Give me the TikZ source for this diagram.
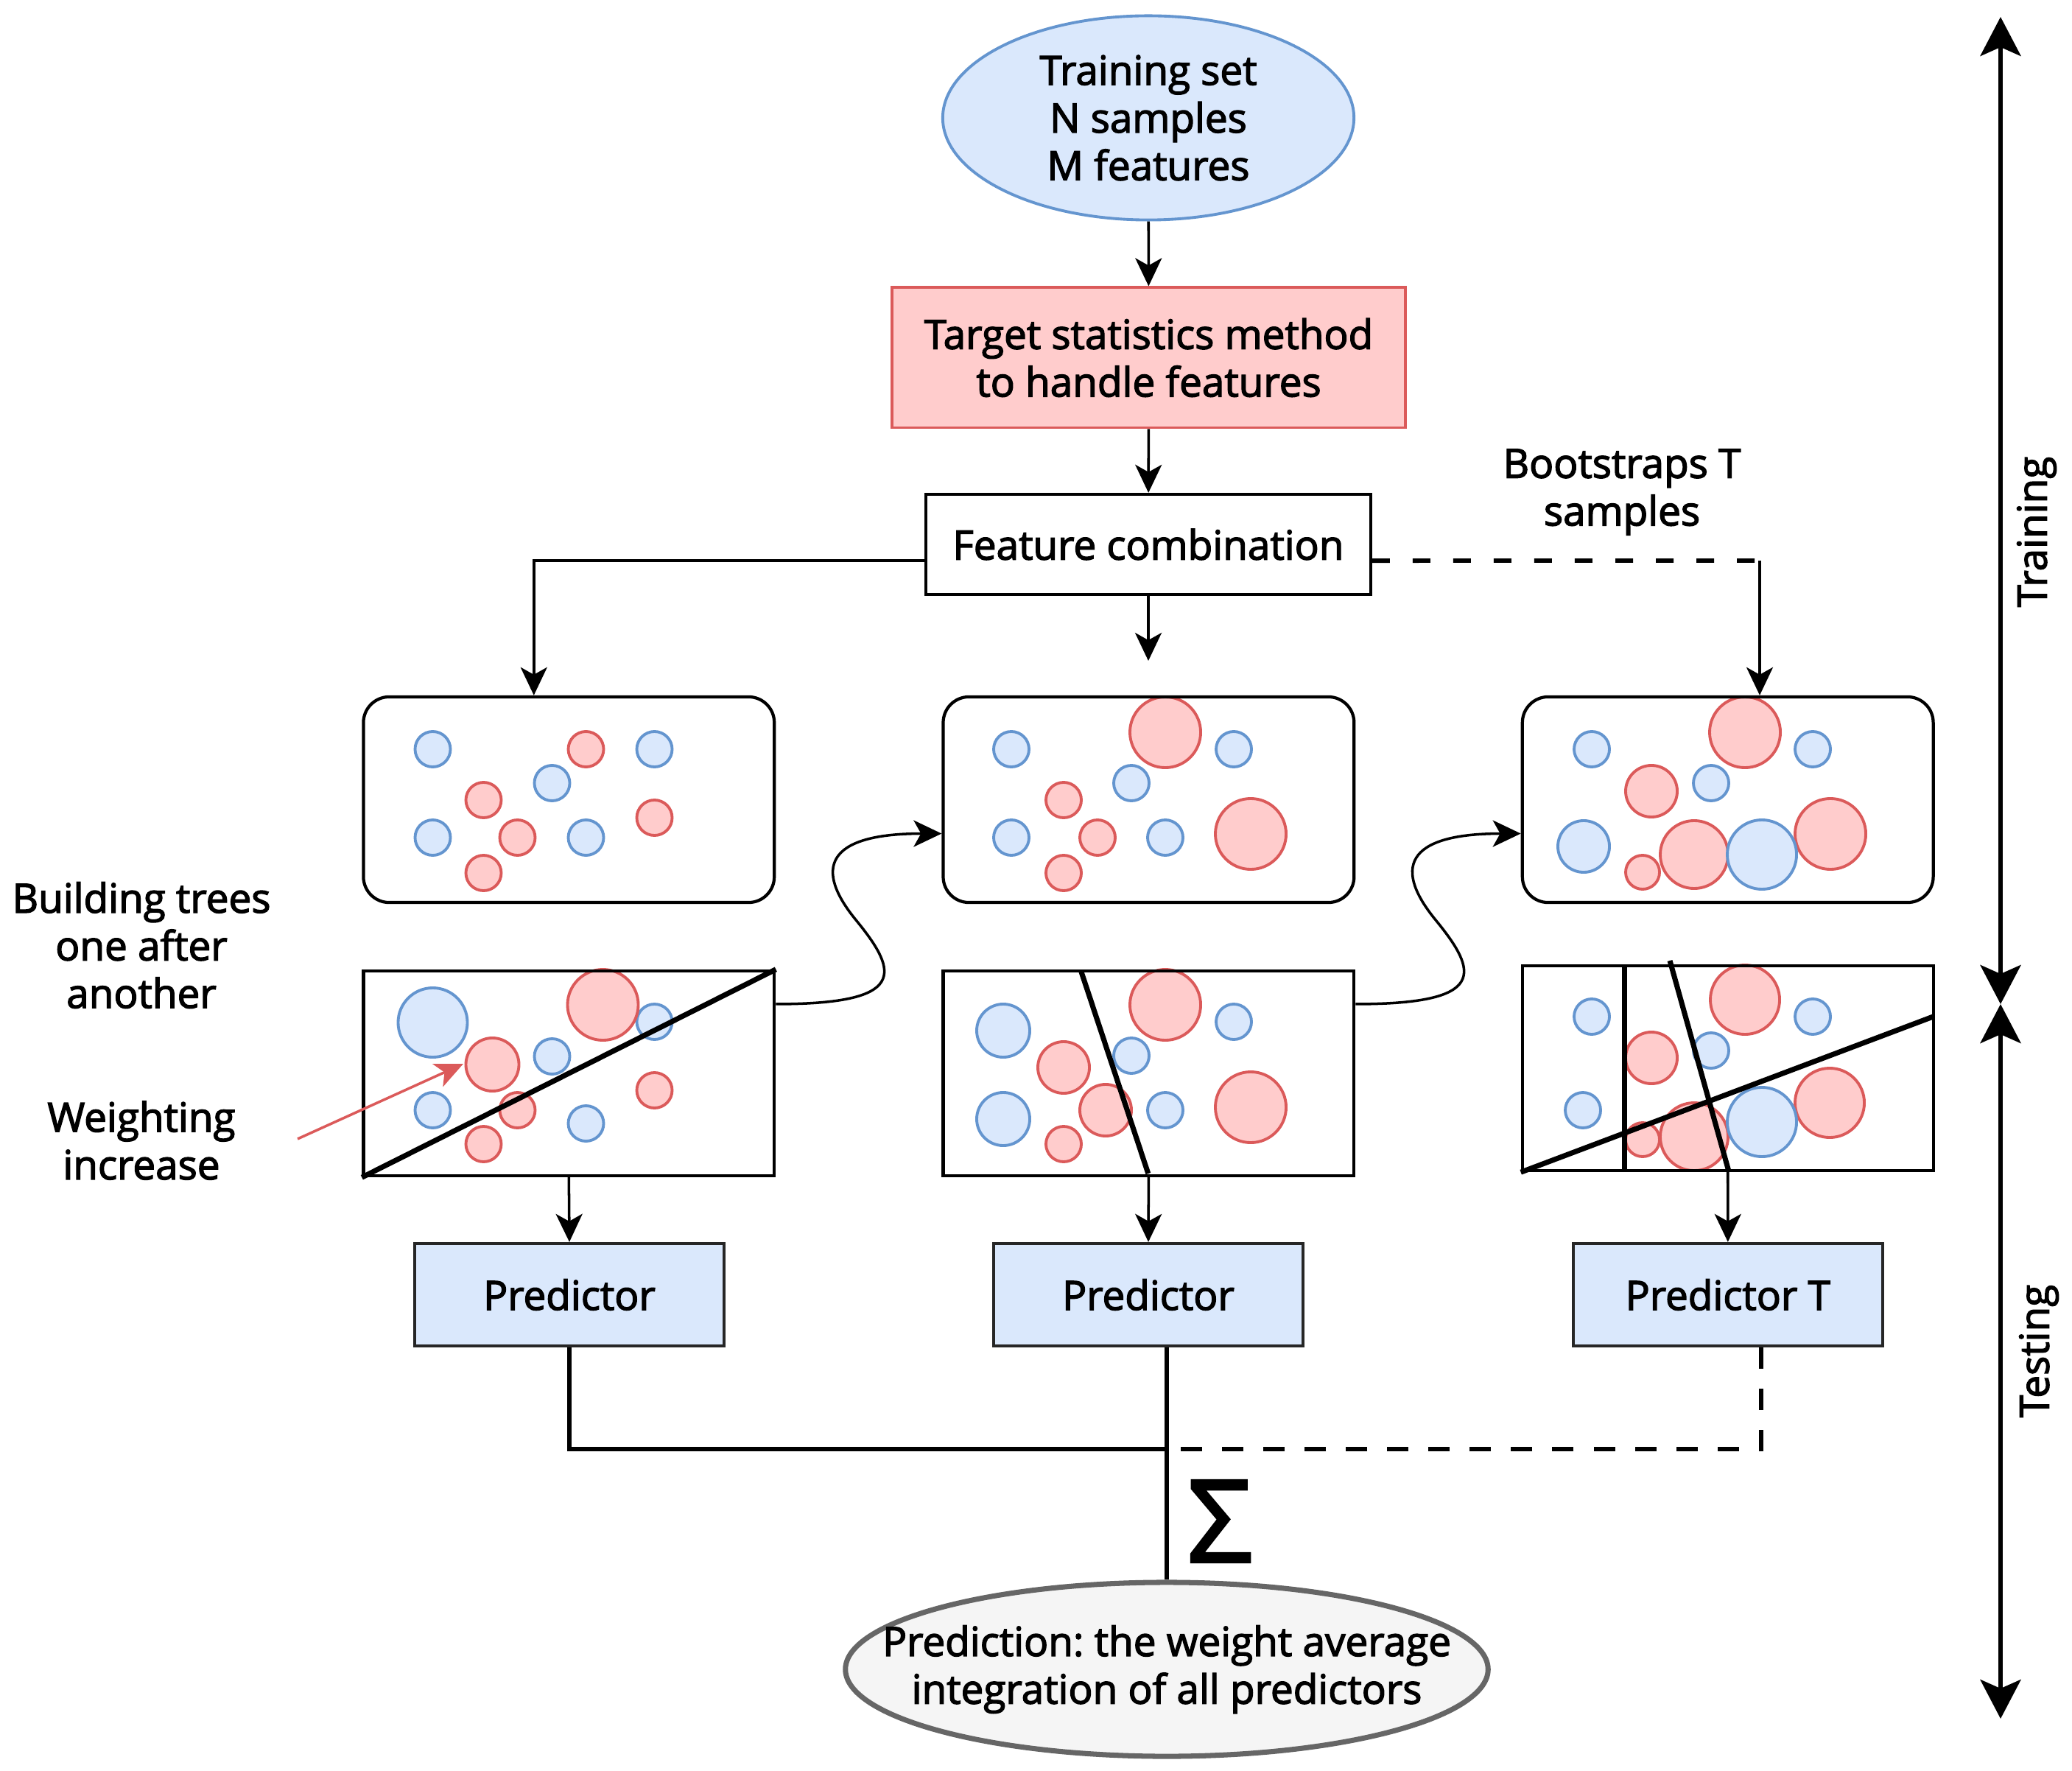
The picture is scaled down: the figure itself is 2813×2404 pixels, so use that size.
\documentclass[tikz,border=0pt]{standalone}
\usepackage{fontspec}
\setmainfont{Open Sans}[FakeBold=2.5]
\usepackage{tikz}
\usetikzlibrary{arrows.meta,shapes.geometric}

\definecolor{bluefill}{HTML}{DAE8FC}
\definecolor{blueline}{HTML}{6495CF}
\definecolor{redfill}{HTML}{FFCCCC}
\definecolor{redline}{HTML}{DB5A5A}
\definecolor{greyfill}{HTML}{F5F5F5}
\definecolor{greyline}{HTML}{666666}

\begin{document}
\frenchspacing
\begin{tikzpicture}[x=0.01cm,y=-0.01cm,
  font=\fontsize{15.6}{18.4}\selectfont,
  tip/.style={line width=1pt,-{Stealth[length=0.38cm,width=0.36cm,inset=0.1cm]}},
  redtip/.style={draw=redline,line width=1pt,-{Stealth[length=0.38cm,width=0.34cm,inset=0.1cm]}},
  phase/.style={line width=1.7pt,{Stealth[length=0.53cm,width=0.55cm,inset=0.12cm]}-{Stealth[length=0.53cm,width=0.55cm,inset=0.12cm]}},
  sumline/.style={line width=1.7pt},
  sumdash/.style={line width=1.7pt,dash pattern=on 0.29cm off 0.27cm},
  bootdash/.style={line width=1.7pt,dash pattern=on 0.24cm off 0.31cm},
  split/.style={line width=2pt},
  bluedot/.style={draw=blueline,fill=bluefill,line width=1.1pt},
  reddot/.style={draw=redline,fill=redfill,line width=1.1pt},
  dataset/.style={ellipse,draw=blueline,fill=bluefill,line width=1.1pt,inner sep=0,
    minimum width=5.58cm,minimum height=2.77cm,align=center},
  method/.style={draw=redline,fill=redfill,line width=1.1pt,
    minimum width=6.96cm,minimum height=1.9cm,align=center},
  combine/.style={draw,line width=1.2pt,minimum width=6.03cm,minimum height=1.36cm},
  sample/.style={draw,line width=1.2pt,rounded corners=0.35cm,
    minimum width=5.575cm,minimum height=2.79cm},
  tree/.style={draw,line width=1.2pt,minimum width=5.575cm,minimum height=2.78cm},
  predictor/.style={draw=black!85,fill=bluefill,line width=1.2pt,
    minimum width=4.2cm,minimum height=1.39cm},
  result/.style={ellipse,draw=greyline,fill=greyfill,line width=2pt,
    inner xsep=-1cm,inner ysep=0,
    minimum width=8.72cm,minimum height=2.36cm,align=center}]

\useasboundingbox (0,0) rectangle (2813,2404);

% samples before training
\begin{scope}[shift={(493.5,946)}]
  \foreach \cx/\cy/\r in {94/71/2.4,395/71/2.4,256/117/2.4,94/191/2.4,302/191/2.4}
    \draw[bluedot] (\cx,\cy) circle[radius=\r mm];
  \foreach \cx/\cy/\r in {302/71/2.4,163/140/2.4,395/164/2.4,209/191/2.4,163/239/2.4}
    \draw[reddot] (\cx,\cy) circle[radius=\r mm];
\end{scope}
\begin{scope}[shift={(1281,946)}]
  \foreach \cx/\cy/\r in {92/71/2.4,394/71/2.4,255/117/2.4,92/191/2.4,301/191/2.4}
    \draw[bluedot] (\cx,\cy) circle[radius=\r mm];
  \foreach \cx/\cy/\r in {163/140/2.4,209/191/2.4,163/239/2.4,301/48/4.8,417/186/4.8}
    \draw[reddot] (\cx,\cy) circle[radius=\r mm];
\end{scope}
\begin{scope}[shift={(2067,946)}]
  \foreach \cx/\cy/\r in {94/71/2.4,394/71/2.4,256/117/2.4,83/203/3.5}
    \draw[bluedot] (\cx,\cy) circle[radius=\r mm];
  \foreach \cx/\cy/\r in {302/48/4.8,418/186/4.8,175/128/3.5,163/238/2.3,233/214/4.6}
    \draw[reddot] (\cx,\cy) circle[radius=\r mm];
  \draw[bluedot] (325,214) circle[radius=4.7mm];
\end{scope}

% samples after each tree
\begin{scope}[shift={(493.5,1318)}]
  \foreach \cx/\cy/\r in {94/70/4.7,395/69/2.4,256/116/2.4,94/189/2.4,302/207/2.4}
    \draw[bluedot] (\cx,\cy) circle[radius=\r mm];
  \foreach \cx/\cy/\r in {325/46/4.8,175/127/3.6,395/162/2.4,209/189/2.4,163/235/2.4}
    \draw[reddot] (\cx,\cy) circle[radius=\r mm];
\end{scope}
\begin{scope}[shift={(1281,1318)}]
  \foreach \cx/\cy/\r in {81/81/3.6,81/201/3.6,394/69/2.4,255/115/2.4,301/189/2.4}
    \draw[bluedot] (\cx,\cy) circle[radius=\r mm];
  \foreach \cx/\cy/\r in {301/46/4.8,417/185/4.8,163/131/3.5,220/189/3.5,163/235/2.4}
    \draw[reddot] (\cx,\cy) circle[radius=\r mm];
\end{scope}
\begin{scope}[shift={(2067,1311)}]
  \foreach \cx/\cy/\r in {94/69/2.4,394/69/2.4,256/115/2.4,82/196/2.4}
    \draw[bluedot] (\cx,\cy) circle[radius=\r mm];
  \foreach \cx/\cy/\r in {302/46/4.7,417/186/4.7,175/125/3.5,163/236/2.3,233/232/4.6}
    \draw[reddot] (\cx,\cy) circle[radius=\r mm];
  \draw[bluedot] (325,212) circle[radius=4.7mm];
\end{scope}

\draw (1559,160) node[dataset] (data) {Training set\\N samples\\M features};
\draw (1559.5,485.4) node[method] (method) {Target statistics method\\to handle features};
\draw (1559,739) node[combine] (combine) {Feature combination};
\draw (2202,668) node[align=center] (boot) {Bootstraps T\\samples};

\draw (772.3,1085.5) node[sample] (sampleA) {};
\draw (1559.4,1085.5) node[sample] (sampleB) {};
\draw (2345.7,1085.5) node[sample] (sampleC) {};
\draw (772.3,1457) node[tree] (treeA) {};
\draw (1559.4,1457) node[tree] (treeB) {};
\draw (2345.7,1450) node[tree] (treeC) {};

\draw (773,1757.5) node[predictor] (predA) {Predictor};
\draw (1559,1757.5) node[predictor] (predB) {Predictor};
\draw (2345.8,1757.5) node[predictor] (predC) {Predictor T};
\draw (1584,2266) node[result] (result) {Prediction: the weight average\\integration of all predictors};
\draw (1656,2065) node (sigma) {\fontsize{44}{44}\selectfont Σ};

\draw (192,1283) node[align=center] (build) {Building trees\\one after\\another};
\draw (192,1548) node[align=center] (weight) {Weighting\\increase};
\draw (2765,722) node[rotate=90] (train) {Training};
\draw (2768,1834) node[rotate=90] (test) {Testing};

% split lines of the trees
\draw[split] (treeA.south west) -- (treeA.north east);
\draw[split] (1467.6,1318) -- (1558.8,1593);
\draw[split] (2205.8,1311) -- (2205.8,1589);
\draw[split] (2267,1304) -- (2346.7,1589);
\draw[split] (treeC.south west) -- (2624.4,1380);

\coordinate (gap) at (1559,897);
\coordinate (bootend) at (2389,761);
\coordinate (join) at (1584,1967);
\coordinate (wstart) at (404,1546);
\coordinate (wend) at (629,1444);
\coordinate (ttop) at (2716,23);
\coordinate (tmid) at (2716,1363);
\coordinate (tbot) at (2716,2333);

\path[tip] (data) edge (method);
\path[tip] (method) edge (combine);
\path[tip] (combine) edge (gap);
\draw[tip] ([yshift=-0.22cm]combine.west) -| ([xshift=-0.475cm]sampleA.north);
\draw[bootdash] ([yshift=-0.22cm]combine.east) -- (bootend);
\draw[tip] (bootend) -- (bootend |- sampleC.north);

\draw[tip] ([yshift=0.94cm]treeA.east) .. controls +(179,0) and +(57,70) .. (1163,1250)
  .. controls +(-58,-70) and +(-159,0) .. ([yshift=-0.46cm]sampleB.west);
\draw[tip] ([yshift=0.94cm]treeB.east) .. controls +(179,0) and +(57,70) .. (1950,1250)
  .. controls +(-58,-70) and +(-159,0) .. ([yshift=-0.46cm]sampleC.west);
\draw[redtip] (wstart) -- (wend);

\path[tip] (treeA.south) edge (predA.north);
\path[tip] (treeB.south) edge (predB.north);
\path[tip] (treeC.south) edge (predC.north);

\draw[sumline] (predA.south) |- (join);
\draw[sumline] (predB.south -| join) -- (result.north);
\draw[sumdash] ([xshift=0.45cm]predC.south) |- (join);

\draw[phase] (ttop) -- (tmid);
\draw[phase] (tmid) -- (tbot);
\end{tikzpicture}
\end{document}
